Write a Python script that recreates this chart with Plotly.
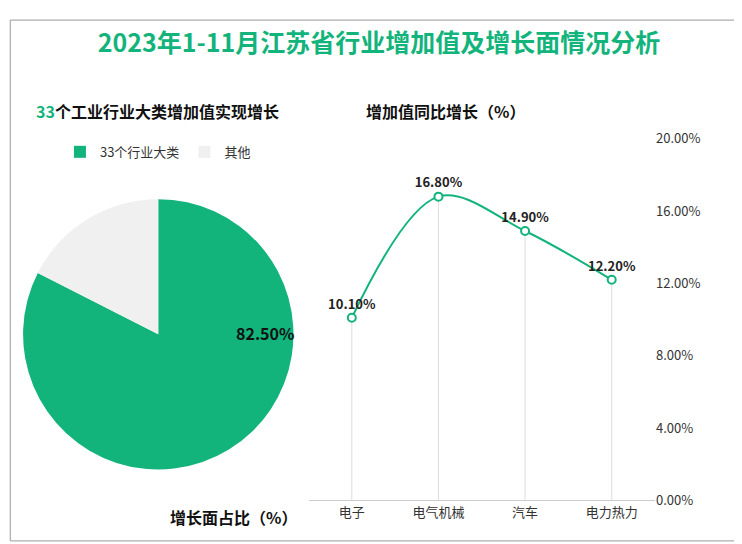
import plotly.graph_objects as go

pie_labels = ["33个行业大类", "其他"]
pie_values = [82.5, 17.5]
cats = ["电子", "电气机械", "汽车", "电力热力"]
growth = [10.10, 16.80, 14.90, 12.20]
y_ticks = [0, 4, 8, 12, 16, 20]

GREEN = "#12b47c"
FONT = "Noto Sans CJK SC"

fig = go.Figure()
fig.add_trace(go.Pie(
    labels=pie_labels, values=pie_values, sort=False, direction="clockwise", rotation=0,
    marker=dict(colors=[GREEN, "#f0f0f0"]), textinfo="none",
    domain=dict(x=[0.02, 0.385], y=[0.14, 0.655]), hoverinfo="label+value",
))
fig.add_trace(go.Scatter(
    x=cats, y=growth, mode="lines+markers+text", line=dict(color=GREEN, width=2, shape="spline"),
    marker=dict(size=8, color="white", line=dict(color=GREEN, width=2)),
    text=[f"<b>{v:.2f}%</b>" for v in growth], textposition="top center",
    textfont=dict(size=13, color="#222"),
    error_y=dict(type="data", symmetric=False, array=[0] * 4, arrayminus=growth,
                 color="#dddddd", thickness=1, width=0),
    showlegend=False, xaxis="x", yaxis="y",
))

fig.update_layout(
    width=742, height=544, paper_bgcolor="white", plot_bgcolor="white",
    margin=dict(l=0, r=0, t=0, b=0), font=dict(family=FONT, color="#333"),
    title=dict(text="<b>2023年1-11月江苏省行业增加值及增长面情况分析</b>", x=0.5, y=0.935,
               xanchor="center", yanchor="middle", font=dict(size=25, color=GREEN)),
    legend=dict(orientation="h", x=0.07, y=0.745, xanchor="left", yanchor="middle",
                font=dict(size=13)),
    xaxis=dict(domain=[0.405, 0.872], range=[-0.5, 3.5], showgrid=False, showline=True,
               linecolor="#ccc", ticks="", tickfont=dict(size=13), anchor="y"),
    yaxis=dict(domain=[0.081, 0.77], range=[0, 20], side="right", tickvals=y_ticks,
               ticktext=[f"{v:.2f}%" for v in y_ticks], showgrid=False, zeroline=False,
               tickfont=dict(size=13), anchor="x"),
    shapes=[dict(type="rect", xref="paper", yref="paper", x0=0.003, y0=0.004, x1=0.997, y1=0.996,
                 line=dict(color="#999", width=1))],
    annotations=[
        dict(text="<b>82.50%</b>", x=0.305, y=0.40, xref="paper", yref="paper",
             showarrow=False, font=dict(size=16, color="#111")),
        dict(text="<b><span style='color:#12b47c'>33</span>个工业行业大类增加值实现增长</b>",
             x=0.035, y=0.822, xref="paper", yref="paper", xanchor="left", yanchor="middle",
             showarrow=False, font=dict(size=16, color="#111")),
        dict(text="<b>增加值同比增长（%）</b>", x=0.70, y=0.822, xref="paper", yref="paper",
             yanchor="middle", showarrow=False, font=dict(size=16, color="#111")),
        dict(text="<b>增长面占比（%）</b>", x=0.215, y=0.05, xref="paper", yref="paper",
             yanchor="middle", showarrow=False, font=dict(size=16, color="#111")),
    ],
)
fig.write_html("out.html")
